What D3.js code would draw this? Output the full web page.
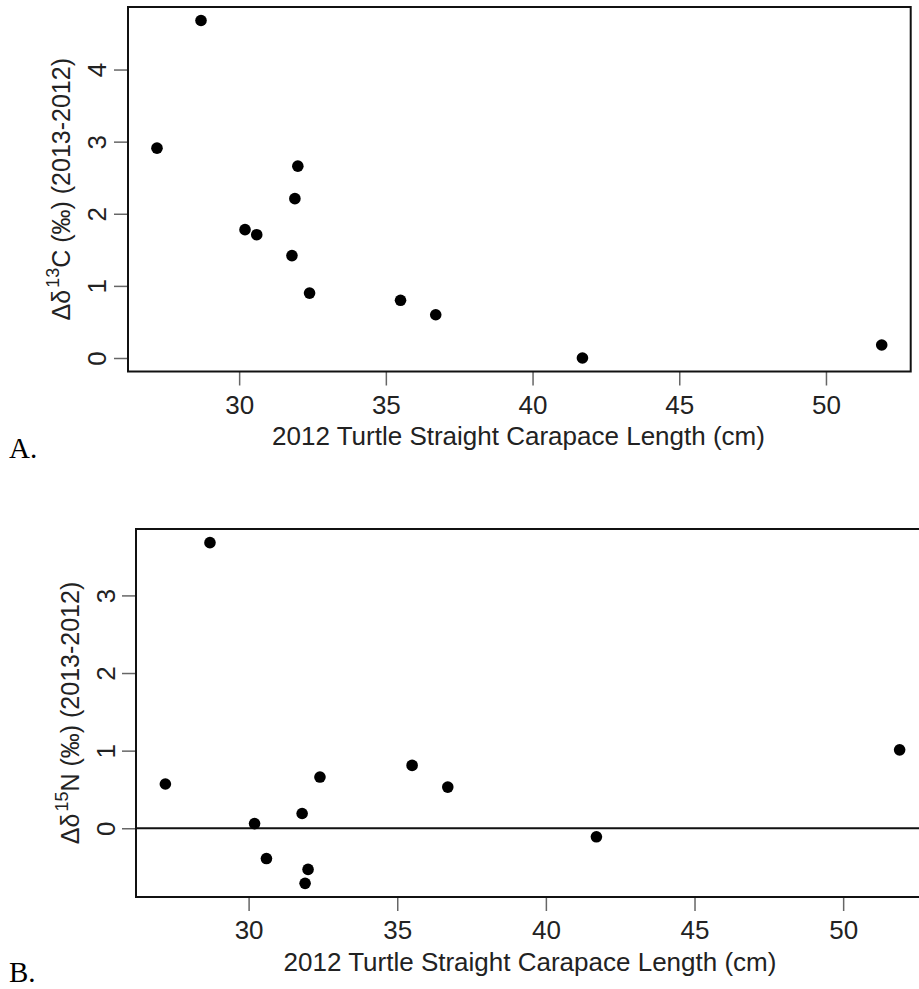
<!DOCTYPE html>
<html>
<head>
<meta charset="utf-8">
<script src="https://cdn.jsdelivr.net/npm/d3@7"></script>
<style>
  html, body { margin: 0; padding: 0; background: #fff; }
  svg { display: block; }
  .tick text { font-family: "Liberation Sans", Arial, sans-serif; fill: #222; }
</style>
</head>
<body>
<svg id="fig" width="919" height="989"></svg>
<script>
// 2012 straight carapace length (cm) of each turtle
const carapaceLength = [27.2, 28.7, 30.2, 30.6, 32.0, 31.9, 31.8, 32.4, 35.5, 36.7, 41.7, 51.9];
// change in delta 13C between 2013 and 2012 (per mil)
const deltaC13 = [2.91, 4.68, 1.78, 1.71, 2.66, 2.21, 1.42, 0.90, 0.80, 0.60, 0.00, 0.18];
// change in delta 15N between 2013 and 2012 (per mil)
const deltaN15 = [0.57, 3.68, 0.06, -0.39, -0.53, -0.71, 0.19, 0.66, 0.81, 0.53, -0.11, 1.01];

const xTicks = [30, 35, 40, 45, 50];
const yTicksC = [0, 1, 2, 3, 4];
const yTicksN = [0, 1, 2, 3];
const xTitle = "2012 Turtle Straight Carapace Length (cm)";

const svg = d3.select("#fig");
const intFmt = d3.format("d");

// pad a data extent by 4% on each side
function padded(values) {
  const [lo, hi] = d3.extent(values);
  const d = (hi - lo) * 0.04;
  return [lo - d, hi + d];
}

function panel(opt) {
  const g = svg.append("g");
  const x = d3.scaleLinear().domain(padded(carapaceLength)).range([opt.left, opt.right]);
  const y = d3.scaleLinear().domain(padded(opt.values)).range([opt.bottom, opt.top]);

  // x axis
  const xa = g.append("g")
    .attr("transform", `translate(0,${opt.bottom})`)
    .call(d3.axisBottom(x).tickValues(xTicks).tickFormat(intFmt).tickSize(14).tickPadding(10));
  xa.select(".domain").remove();
  xa.selectAll(".tick line").attr("stroke", "#666").attr("stroke-width", 1.5);
  xa.selectAll(".tick text").attr("font-size", 26);

  // y axis with labels turned to read upward
  const ya = g.append("g")
    .attr("transform", `translate(${opt.left},0)`)
    .call(d3.axisLeft(y).tickValues(opt.yTicks).tickFormat(intFmt).tickSize(14));
  ya.select(".domain").remove();
  ya.selectAll(".tick line").attr("stroke", "#666").attr("stroke-width", 1.5);
  ya.selectAll(".tick text")
    .attr("font-size", 26)
    .attr("transform", "rotate(-90)")
    .attr("x", 0).attr("y", -opt.tickLabelGap).attr("dy", 0)
    .attr("text-anchor", "middle");

  // reference line at zero
  if (opt.zeroLine) {
    g.append("line")
      .attr("x1", opt.left).attr("x2", opt.right)
      .attr("y1", y(0)).attr("y2", y(0))
      .attr("stroke", "#111").attr("stroke-width", 2);
  }

  // points
  g.append("g").selectAll("circle")
    .data(carapaceLength.map((v, i) => [v, opt.values[i]]))
    .join("circle")
    .attr("cx", d => x(d[0]))
    .attr("cy", d => y(d[1]))
    .attr("r", 5.8)
    .attr("fill", "#000");

  // plot frame
  g.append("rect")
    .attr("x", opt.left).attr("y", opt.top)
    .attr("width", opt.right - opt.left).attr("height", opt.bottom - opt.top)
    .attr("fill", "none").attr("stroke", "#111").attr("stroke-width", 2);

  // x title
  g.append("text")
    .attr("x", opt.xTitleX)
    .attr("y", opt.xTitleY)
    .attr("text-anchor", "middle")
    .attr("font-family", "Liberation Sans, Arial, sans-serif")
    .attr("font-size", 26).attr("fill", "#222")
    .text(xTitle);

  // y title with isotope superscript
  const yt = g.append("text")
    .attr("transform", `translate(${opt.yTitleX},${(opt.top + opt.bottom) / 2}) rotate(-90)`)
    .attr("text-anchor", "middle")
    .attr("font-family", "Liberation Sans, Arial, sans-serif")
    .attr("font-size", 25).attr("fill", "#222");
  yt.append("tspan").text("Δδ");
  yt.append("tspan").attr("font-size", 18).attr("dy", -11).attr("dx", 2).text(opt.isotope);
  yt.append("tspan").attr("dy", 11).text(opt.element + " (‰) (2013-2012)");

  // panel letter
  svg.append("text")
    .attr("x", 9).attr("y", opt.letterY)
    .attr("font-family", "Liberation Serif, 'Times New Roman', serif")
    .attr("font-size", 29).attr("fill", "#000")
    .text(opt.letter);
}

panel({
  values: deltaC13, yTicks: yTicksC,
  left: 128, right: 910.7, top: 7, bottom: 371.5,
  tickLabelGap: 22, xTitleX: 518.5, xTitleY: 445, yTitleX: 70,
  isotope: "13", element: "C", letter: "A.", letterY: 458, zeroLine: false
});

panel({
  values: deltaN15, yTicks: yTicksN,
  left: 136, right: 929, top: 529, bottom: 897,
  tickLabelGap: 21, xTitleX: 530, xTitleY: 971, yTitleX: 79,
  isotope: "15", element: "N", letter: "B.", letterY: 982, zeroLine: true
});
</script>
</body>
</html>
